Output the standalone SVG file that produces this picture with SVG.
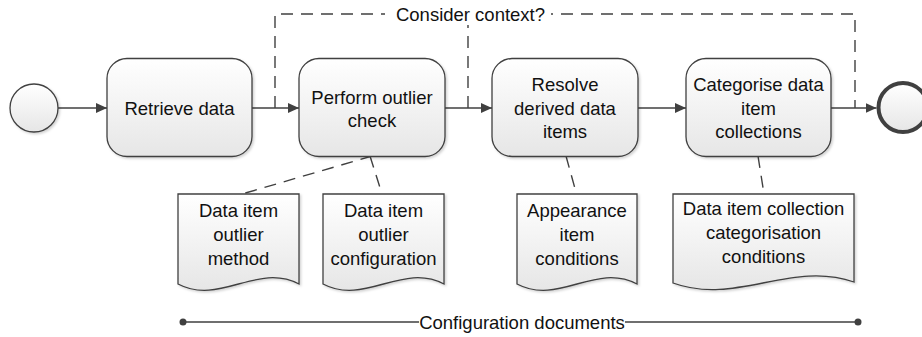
<svg xmlns="http://www.w3.org/2000/svg" width="922" height="337" viewBox="0 0 922 337">
  <defs>
    <linearGradient id="fillGrad" x1="0" y1="0" x2="0" y2="1">
      <stop offset="0" stop-color="#ffffff"/>
      <stop offset="1" stop-color="#e6e6e6"/>
    </linearGradient>
    <filter id="shadow" x="-10%" y="-10%" width="125%" height="130%">
      <feDropShadow dx="1.5" dy="1.5" stdDeviation="1" flood-color="#000" flood-opacity="0.18"/>
    </filter>
    <marker id="arrow" markerUnits="userSpaceOnUse" markerWidth="12" markerHeight="11" refX="11" refY="5" orient="auto">
      <path d="M0,0 L11,5 L0,10 Z" fill="#404040"/>
    </marker>
  </defs>
  <style>
    .shape { fill: url(#fillGrad); stroke: #404040; stroke-width: 1.3; filter: url(#shadow); }
    .flow { fill: none; stroke: #404040; stroke-width: 1.5; }
    .dash { fill: none; stroke: #404040; stroke-width: 1.4; stroke-dasharray: 12 8; }
    .label { font-family: "Liberation Sans", Arial, sans-serif; font-size: 18.5px; fill: #111; text-anchor: middle; }
  </style>

  <!-- connectors -->
  <g id="connectors">
    <path class="flow" d="M58,108 H107" marker-end="url(#arrow)"/>
    <path class="flow" d="M252,108 H299" marker-end="url(#arrow)"/>
    <path class="flow" d="M445,108 H492" marker-end="url(#arrow)"/>
    <path class="flow" d="M638,108 H686" marker-end="url(#arrow)"/>
    <path class="flow" d="M831,108 H876.5" marker-end="url(#arrow)"/>
    <!-- conditional skip paths -->
    <path class="dash" d="M275,108 V14 H855 V108"/>
    <path class="dash" d="M468,108 V14"/>
    <rect x="385" y="2" width="166" height="23" fill="#ffffff"/>
    <text class="label" x="470.5" y="20.5">Consider context?</text>
    <!-- document associations -->
    <path class="dash" d="M372,156 L242,194"/>
    <path class="dash" d="M370,156 L382,194"/>
    <path class="dash" d="M566,156 L576.5,194"/>
    <path class="dash" d="M758,156 L764,194"/>
    <!-- configuration documents bracket -->
    <path class="flow" d="M183,322 H419 M625,322 H858"/>
    <circle cx="183" cy="322" r="3.5" fill="#404040"/>
    <circle cx="858" cy="322" r="3.5" fill="#404040"/>
    <text class="label" x="522" y="328.5">Configuration documents</text>
  </g>

  <!-- events -->
  <g id="start">
    <circle class="shape" cx="34" cy="108" r="24"/>
  </g>
  <g id="end">
    <circle cx="903" cy="107.5" r="24.5" fill="url(#fillGrad)" stroke="#404040" stroke-width="4"/>
  </g>

  <!-- tasks -->
  <g id="retrieve-data">
    <rect class="shape" x="107" y="58.5" width="145" height="98" rx="20" ry="20"/>
    <text class="label" x="179.5" y="114.5">Retrieve data</text>
  </g>
  <g id="outlier-check">
    <rect class="shape" x="299" y="58.5" width="146" height="98" rx="20" ry="20"/>
    <text class="label" x="372" y="103.5">Perform outlier</text>
    <text class="label" x="372" y="126.5">check</text>
  </g>
  <g id="resolve-derived">
    <rect class="shape" x="492" y="58.5" width="146" height="98" rx="20" ry="20"/>
    <text class="label" x="565" y="91">Resolve</text>
    <text class="label" x="565" y="114.5">derived data</text>
    <text class="label" x="565" y="138">items</text>
  </g>
  <g id="categorise-collections">
    <rect class="shape" x="686" y="58.5" width="145" height="98" rx="20" ry="20"/>
    <text class="label" x="758.5" y="91">Categorise data</text>
    <text class="label" x="758.5" y="114.5">item</text>
    <text class="label" x="758.5" y="138">collections</text>
  </g>

  <!-- documents -->
  <g id="doc-outlier-method">
    <path class="shape" d="M178,194 H299 V284 C257,262 220,306 178,284 Z"/>
    <text class="label" x="238.5" y="217">Data item</text>
    <text class="label" x="238.5" y="241">outlier</text>
    <text class="label" x="238.5" y="265">method</text>
  </g>
  <g id="doc-outlier-config">
    <path class="shape" d="M323,194 H444 V284 C402,262 365,306 323,284 Z"/>
    <text class="label" x="383.5" y="217">Data item</text>
    <text class="label" x="383.5" y="241">outlier</text>
    <text class="label" x="383.5" y="265">configuration</text>
  </g>
  <g id="doc-appearance">
    <path class="shape" d="M517,194 H637 V284 C595,262 559,306 517,284 Z"/>
    <text class="label" x="577" y="217">Appearance</text>
    <text class="label" x="577" y="241">item</text>
    <text class="label" x="577" y="265">conditions</text>
  </g>
  <g id="doc-collection-categorisation">
    <path class="shape" d="M673,194 H854 V282 C791,260 736,306 673,283 Z"/>
    <text class="label" x="763.5" y="215">Data item collection</text>
    <text class="label" x="763.5" y="239">categorisation</text>
    <text class="label" x="763.5" y="263">conditions</text>
  </g>
</svg>
